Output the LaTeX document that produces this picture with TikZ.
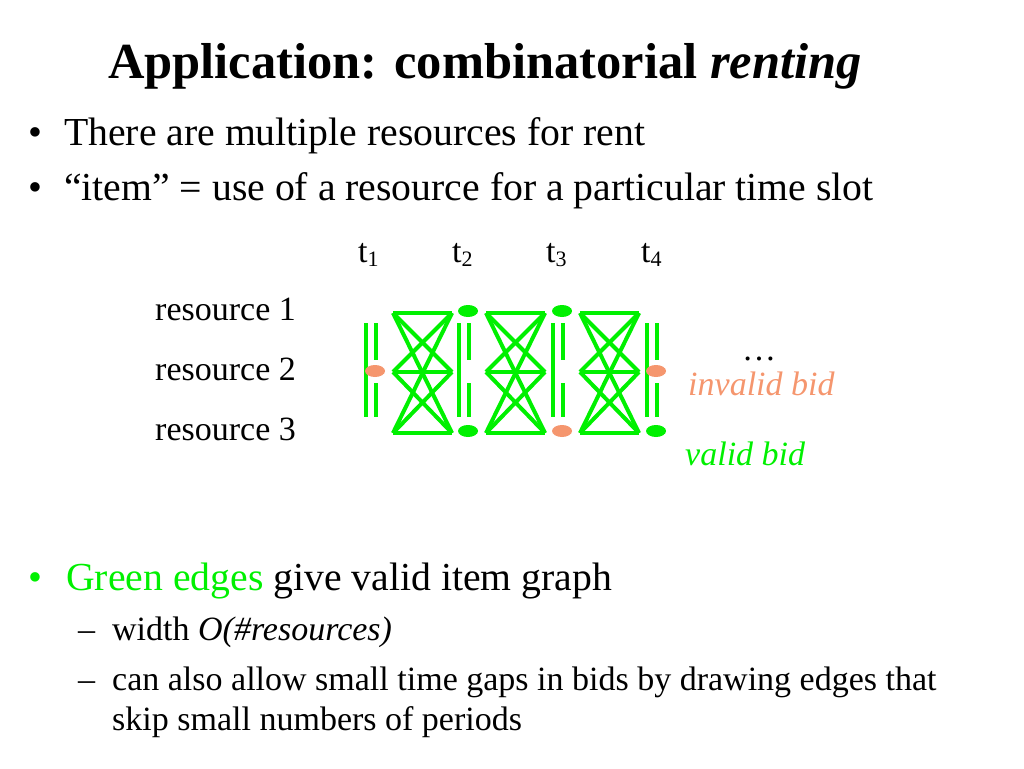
\documentclass[tikz,border=0pt]{standalone}
\usepackage{fontspec}
\setmainfont{Liberation Serif}
\begin{document}
\begin{tikzpicture}[x=1pt,y=-1pt,
  txt/.style={anchor=base west,inner sep=0pt,font=\fontsize{39.7}{45}\selectfont},
  sub/.style={anchor=base west,inner sep=0pt,font=\fontsize{34}{40}\selectfont},
  edge/.style={draw=gr,line width=4},
  dotg/.style={ellipse,fill=gr,minimum width=20,minimum height=12,inner sep=0},
  doto/.style={ellipse,fill=orng,minimum width=20,minimum height=12,inner sep=0}]
\usetikzlibrary{shapes.geometric}
\definecolor{gr}{RGB}{0,240,0}
\definecolor{orng}{RGB}{245,150,110}
\useasboundingbox (0,0) rectangle (1024,768);
\node[anchor=base west,inner sep=0pt,font=\fontsize{50.5}{56}\selectfont\bfseries] (title) at (108,78) {Application: combinatorial \textit{renting}};
\node[txt] (b1) at (28,145) {•};
\node[txt] (l1) at (64,145) {There are multiple resources for rent};
\node[txt] (b2) at (28,200) {•};
\node[txt] (l2) at (64,200) {“item” = use of a resource for a particular time slot};
\foreach \x/\i in {358/1,452/2,546/3,641/4}
  \node[sub] (t\i) at (\x,262) {t\raisebox{-0.3ex}{\fontsize{22}{24}\selectfont\i}};
\foreach \y/\i in {320/1,380/2,440/3}
  \node[sub] (r\i) at (155,\y) {resource \i};
\node[sub] (dots) at (742,360) {…};
\node[sub,text=orng] (inv) at (688,395) {\textit{invalid bid}};
\node[sub,text=gr] (val) at (685,465) {\textit{valid bid}};
% graph
\foreach \c [count=\k] in {375,468,562,656}{
  \coordinate (L\k) at (\c,0);
  \draw[edge] (\c-9,323) -- (\c-9,417);
  \draw[edge] (\c+1,323) -- (\c+1,360);
  \draw[edge] (\c+1,383) -- (\c+1,417);
}
\foreach \a in {375,468,562}{
  \foreach \ya in {313,372,433}{
    \foreach \yb in {313,372,433}{
      \draw[edge] (\a+18,\ya) -- (\a+77,\yb);
    }
  }
}
\node[doto] (n12) at (375,371) {};
\node[dotg] (n21) at (468,311) {};
\node[dotg] (n23) at (468,431) {};
\node[dotg] (n31) at (562,311) {};
\node[doto] (n33) at (562,431) {};
\node[doto] (n42) at (656,371) {};
\node[dotg] (n43) at (656,431) {};
\node[txt,text=gr] (b3) at (28,590) {•};
\node[txt] (l3) at (66,590) {\textcolor{gr}{Green edges} give valid item graph};
\node[sub] (d1) at (78,640) {–};
\node[sub] (s1) at (112,640) {width \textit{O(\#resources)}};
\node[sub] (d2) at (78,690) {–};
\node[sub] (s2) at (112,690) {can also allow small time gaps in bids by drawing edges that};
\node[sub] (s3) at (112,730) {skip small numbers of periods};
\end{tikzpicture}
\end{document}
